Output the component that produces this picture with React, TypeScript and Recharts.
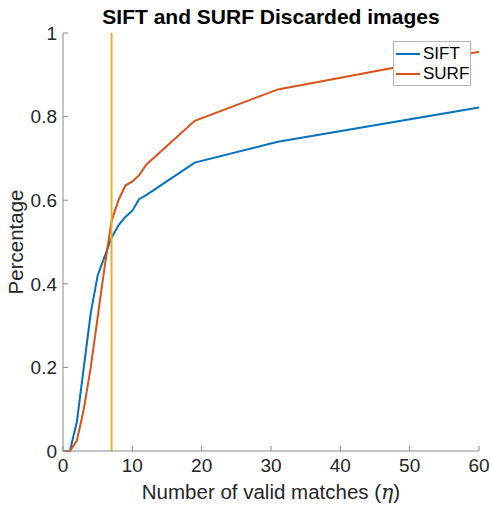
import React from "react"
import {
  LineChart,
  Line,
  XAxis,
  YAxis,
  ReferenceLine,
  Legend,
} from "recharts"

// valid matches (eta)
const matches = [0, 1, 2, 3, 4, 5, 6, 7, 8, 9, 10, 11, 12, 19, 31, 60]
const siftRate = [0, 0, 0.07, 0.2, 0.33, 0.42, 0.465, 0.51, 0.54, 0.56, 0.575, 0.603, 0.612, 0.69, 0.74, 0.822]
const surfRate = [0, 0, 0.025, 0.1, 0.2, 0.32, 0.44, 0.55, 0.6, 0.635, 0.645, 0.66, 0.685, 0.79, 0.865, 0.955]
const xTicks = [0, 10, 20, 30, 40, 50, 60]
const yTicks = [0, 0.2, 0.4, 0.6, 0.8, 1]
const threshold = 7

const SIFT_COLOR = "#0072BD"
const SURF_COLOR = "#D95319"
const LINE_COLOR = "#EDB120"
const TEXT = "#262626"
const AXIS = "#8a8a8a"
const FONT = "'Liberation Sans', Arial, sans-serif"

const data = matches.map((m, i) => ({ m, sift: siftRate[i], surf: surfRate[i] }))

const XLabel = ({ viewBox }: any) => {
  const { x, y, width } = viewBox
  return (
    <text
      x={x + width / 2}
      y={y + 48}
      textAnchor="middle"
      fill={TEXT}
      fontSize={20.5}
      fontFamily={FONT}
    >
      Number of valid matches (
      <tspan fontStyle="italic" fontFamily="'DejaVu Serif', serif">η</tspan>)
    </text>
  )
}

const YLabel = ({ viewBox }: any) => {
  const { y, height } = viewBox
  const cx = 23
  const cy = y + height / 2
  return (
    <text
      x={cx}
      y={cy}
      transform={`rotate(-90 ${cx} ${cy})`}
      textAnchor="middle"
      fill={TEXT}
      fontSize={20.5}
      fontFamily={FONT}
    >
      Percentage
    </text>
  )
}

const renderLegend = () => {
  const items = [
    { name: "SIFT", color: SIFT_COLOR },
    { name: "SURF", color: SURF_COLOR },
  ]
  return (
    <div
      style={{
        background: "#fff",
        border: "1px solid #b5b5b5",
        width: 76,
        height: 41,
        boxSizing: "content-box",
        fontFamily: FONT,
        fontSize: 17,
        color: "#000",
        paddingTop: 2,
      }}
    >
      {items.map((it) => (
        <div key={it.name} style={{ display: "flex", alignItems: "center", height: 20 }}>
          <div style={{ width: 24, height: 2, background: it.color, marginLeft: 2, marginRight: 3 }} />
          <span>{it.name}</span>
        </div>
      ))}
    </div>
  )
}

export default function App() {
  return (
    <div style={{ position: "absolute", left: 0, top: 0, width: 490, height: 506, background: "#fff" }}>
      <div
        style={{
          position: "absolute",
          left: 63,
          width: 416,
          top: 5,
          textAlign: "center",
          fontFamily: FONT,
          fontWeight: "bold",
          fontSize: 21,
          color: "#000",
        }}
      >
        SIFT and SURF Discarded images
      </div>
      <LineChart
        width={490}
        height={506}
        data={data}
        margin={{ top: 33, right: 11, bottom: 25, left: 0 }}
      >
        <XAxis
          dataKey="m"
          type="number"
          domain={[0, 60]}
          ticks={xTicks}
          tickSize={-5}
          tickMargin={13}
          height={30}
          stroke={AXIS}
          tick={{ fill: TEXT, fontSize: 19, fontFamily: FONT }}
          label={<XLabel />}
        />
        <YAxis
          type="number"
          domain={[0, 1]}
          ticks={yTicks}
          width={63}
          tickSize={-5}
          tickMargin={11}
          stroke={AXIS}
          tick={{ fill: TEXT, fontSize: 19, fontFamily: FONT }}
          label={<YLabel />}
        />
        <Line
          dataKey="sift"
          name="SIFT"
          stroke={SIFT_COLOR}
          strokeWidth={2}
          dot={false}
          isAnimationActive={false}
        />
        <Line
          dataKey="surf"
          name="SURF"
          stroke={SURF_COLOR}
          strokeWidth={2}
          dot={false}
          isAnimationActive={false}
        />
        <ReferenceLine x={threshold} stroke={LINE_COLOR} strokeWidth={2} />
        <Legend
          layout="horizontal"
          align="center"
          verticalAlign="middle"
          content={renderLegend}
          wrapperStyle={{ left: 393, top: 41, width: 78, height: 45 }}
        />
      </LineChart>
    </div>
  )
}
